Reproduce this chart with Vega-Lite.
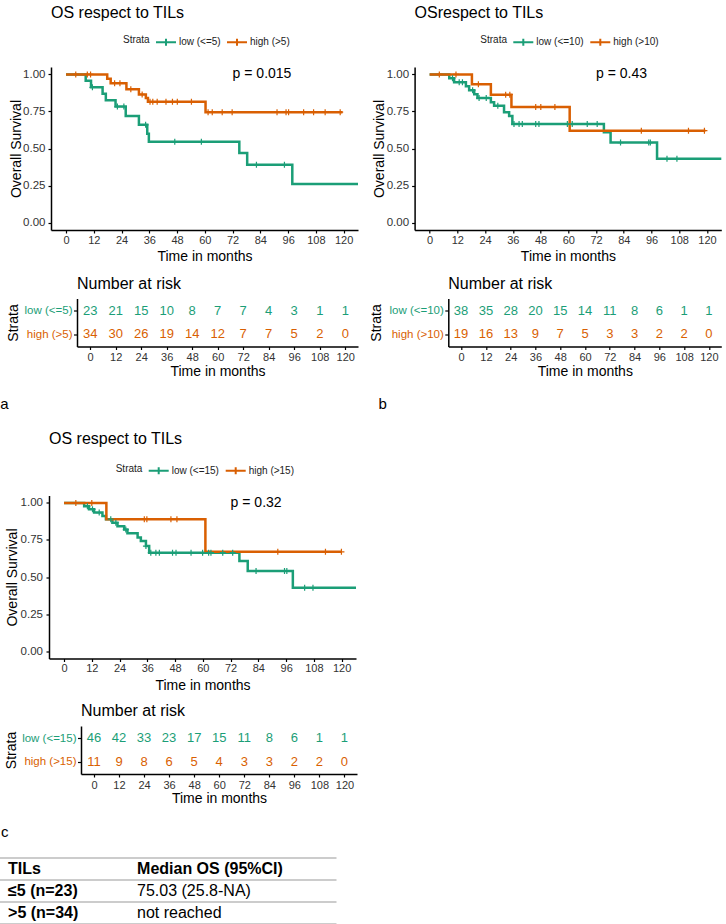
{
  "$schema": "https://vega.github.io/schema/vega-lite/v6.json",
  "padding": {"left": 0, "top": 5, "right": 0, "bottom": 0},
  "config": {
    "font": "Liberation Sans",
    "view": {"stroke": null},
    "axis": {"grid": false, "domainColor": "#000", "domainWidth": 1.5, "tickColor": "#000", "tickWidth": 1.2, "labelColor": "#333", "titleColor": "#000", "titleFontWeight": "normal", "labelFont": "Liberation Sans", "titleFont": "Liberation Sans", "labelOverlap": false},
    "title": {"fontWeight": "normal", "color": "#000", "font": "Liberation Sans"},
    "legend": {"labelFont": "Liberation Sans", "titleFont": "Liberation Sans"}
  },
  "datasets": {
    "km_a": [
      {"strata": "low (<=5)", "time": 0, "surv": 1}, {"strata": "low (<=5)", "time": 8.5, "surv": 0.957}, {"strata": "low (<=5)", "time": 10.8, "surv": 0.913}, {"strata": "low (<=5)", "time": 15.8, "surv": 0.87}, {"strata": "low (<=5)", "time": 17.2, "surv": 0.826}, {"strata": "low (<=5)", "time": 21.4, "surv": 0.783}, {"strata": "low (<=5)", "time": 25.8, "surv": 0.72}, {"strata": "low (<=5)", "time": 31.5, "surv": 0.66}, {"strata": "low (<=5)", "time": 35.1, "surv": 0.6}, {"strata": "low (<=5)", "time": 35.8, "surv": 0.545}, {"strata": "low (<=5)", "time": 74.9, "surv": 0.47}, {"strata": "low (<=5)", "time": 78.3, "surv": 0.39}, {"strata": "low (<=5)", "time": 97.8, "surv": 0.26}, {"strata": "low (<=5)", "time": 126.2, "surv": 0.26},
      {"strata": "high (>5)", "time": 0, "surv": 1}, {"strata": "high (>5)", "time": 17.8, "surv": 0.97}, {"strata": "high (>5)", "time": 19.3, "surv": 0.94}, {"strata": "high (>5)", "time": 26.1, "surv": 0.9}, {"strata": "high (>5)", "time": 31.5, "surv": 0.865}, {"strata": "high (>5)", "time": 34.5, "surv": 0.84}, {"strata": "high (>5)", "time": 35.4, "surv": 0.815}, {"strata": "high (>5)", "time": 60.3, "surv": 0.745}, {"strata": "high (>5)", "time": 119.5, "surv": 0.745}
    ],
    "cens_a": [
      {"strata": "low (<=5)", "time": 11.4, "surv": 0.913}, {"strata": "low (<=5)", "time": 22.2, "surv": 0.783}, {"strata": "low (<=5)", "time": 25, "surv": 0.783}, {"strata": "low (<=5)", "time": 34.4, "surv": 0.66}, {"strata": "low (<=5)", "time": 47, "surv": 0.545}, {"strata": "low (<=5)", "time": 58.5, "surv": 0.545}, {"strata": "low (<=5)", "time": 82.3, "surv": 0.39}, {"strata": "low (<=5)", "time": 94.4, "surv": 0.39},
      {"strata": "high (>5)", "time": 4.2, "surv": 1}, {"strata": "high (>5)", "time": 9.2, "surv": 1}, {"strata": "high (>5)", "time": 10.6, "surv": 1}, {"strata": "high (>5)", "time": 21, "surv": 0.94}, {"strata": "high (>5)", "time": 23.3, "surv": 0.94}, {"strata": "high (>5)", "time": 28, "surv": 0.9}, {"strata": "high (>5)", "time": 32.9, "surv": 0.865}, {"strata": "high (>5)", "time": 36.3, "surv": 0.815}, {"strata": "high (>5)", "time": 37.5, "surv": 0.815}, {"strata": "high (>5)", "time": 39.4, "surv": 0.815}, {"strata": "high (>5)", "time": 43.2, "surv": 0.815}, {"strata": "high (>5)", "time": 46, "surv": 0.815}, {"strata": "high (>5)", "time": 48.1, "surv": 0.815}, {"strata": "high (>5)", "time": 54.2, "surv": 0.815}, {"strata": "high (>5)", "time": 61.4, "surv": 0.745}, {"strata": "high (>5)", "time": 63.2, "surv": 0.745}, {"strata": "high (>5)", "time": 67.5, "surv": 0.745}, {"strata": "high (>5)", "time": 71.8, "surv": 0.745}, {"strata": "high (>5)", "time": 91.2, "surv": 0.745}, {"strata": "high (>5)", "time": 95.1, "surv": 0.745}, {"strata": "high (>5)", "time": 96.2, "surv": 0.745}, {"strata": "high (>5)", "time": 102.7, "surv": 0.745}, {"strata": "high (>5)", "time": 107, "surv": 0.745}, {"strata": "high (>5)", "time": 112, "surv": 0.745}, {"strata": "high (>5)", "time": 118.5, "surv": 0.745}
    ],
    "km_b": [
      {"strata": "low (<=10)", "time": 0, "surv": 1}, {"strata": "low (<=10)", "time": 8.5, "surv": 0.974}, {"strata": "low (<=10)", "time": 10.6, "surv": 0.947}, {"strata": "low (<=10)", "time": 15.7, "surv": 0.92}, {"strata": "low (<=10)", "time": 17.1, "surv": 0.893}, {"strata": "low (<=10)", "time": 19.3, "surv": 0.866}, {"strata": "low (<=10)", "time": 20.7, "surv": 0.84}, {"strata": "low (<=10)", "time": 26.5, "surv": 0.812}, {"strata": "low (<=10)", "time": 27.9, "surv": 0.788}, {"strata": "low (<=10)", "time": 32.2, "surv": 0.745}, {"strata": "low (<=10)", "time": 34.4, "surv": 0.72}, {"strata": "low (<=10)", "time": 35.8, "surv": 0.665}, {"strata": "low (<=10)", "time": 75.4, "surv": 0.61}, {"strata": "low (<=10)", "time": 78.3, "surv": 0.54}, {"strata": "low (<=10)", "time": 98.4, "surv": 0.43}, {"strata": "low (<=10)", "time": 126.2, "surv": 0.43},
      {"strata": "high (>10)", "time": 0, "surv": 1}, {"strata": "high (>10)", "time": 18.3, "surv": 0.934}, {"strata": "high (>10)", "time": 26.5, "surv": 0.863}, {"strata": "high (>10)", "time": 35.4, "surv": 0.78}, {"strata": "high (>10)", "time": 60.6, "surv": 0.62}, {"strata": "high (>10)", "time": 119.3, "surv": 0.62}
    ],
    "cens_b": [
      {"strata": "low (<=10)", "time": 9.9, "surv": 0.974}, {"strata": "low (<=10)", "time": 12.8, "surv": 0.947}, {"strata": "low (<=10)", "time": 14.2, "surv": 0.947}, {"strata": "low (<=10)", "time": 18.6, "surv": 0.893}, {"strata": "low (<=10)", "time": 21.4, "surv": 0.84}, {"strata": "low (<=10)", "time": 24.5, "surv": 0.84}, {"strata": "low (<=10)", "time": 29.5, "surv": 0.788}, {"strata": "low (<=10)", "time": 36.5, "surv": 0.665}, {"strata": "low (<=10)", "time": 38.7, "surv": 0.665}, {"strata": "low (<=10)", "time": 40.1, "surv": 0.665}, {"strata": "low (<=10)", "time": 45.9, "surv": 0.665}, {"strata": "low (<=10)", "time": 47.3, "surv": 0.665}, {"strata": "low (<=10)", "time": 59.6, "surv": 0.665}, {"strata": "low (<=10)", "time": 61.7, "surv": 0.665}, {"strata": "low (<=10)", "time": 68.2, "surv": 0.665}, {"strata": "low (<=10)", "time": 72.5, "surv": 0.665}, {"strata": "low (<=10)", "time": 82.6, "surv": 0.54}, {"strata": "low (<=10)", "time": 94.8, "surv": 0.54}, {"strata": "low (<=10)", "time": 95.5, "surv": 0.54}, {"strata": "low (<=10)", "time": 102.7, "surv": 0.43}, {"strata": "low (<=10)", "time": 107, "surv": 0.43},
      {"strata": "high (>10)", "time": 4.2, "surv": 1}, {"strata": "high (>10)", "time": 11.4, "surv": 1}, {"strata": "high (>10)", "time": 21.1, "surv": 0.934}, {"strata": "high (>10)", "time": 32.9, "surv": 0.863}, {"strata": "high (>10)", "time": 34.7, "surv": 0.863}, {"strata": "high (>10)", "time": 45.9, "surv": 0.78}, {"strata": "high (>10)", "time": 48.1, "surv": 0.78}, {"strata": "high (>10)", "time": 54.2, "surv": 0.78}, {"strata": "high (>10)", "time": 91.6, "surv": 0.62}, {"strata": "high (>10)", "time": 112, "surv": 0.62}, {"strata": "high (>10)", "time": 118.9, "surv": 0.62}
    ],
    "km_c": [
      {"strata": "low (<=15)", "time": 0, "surv": 1}, {"strata": "low (<=15)", "time": 8.7, "surv": 0.978}, {"strata": "low (<=15)", "time": 10.8, "surv": 0.957}, {"strata": "low (<=15)", "time": 13, "surv": 0.935}, {"strata": "low (<=15)", "time": 16.6, "surv": 0.912}, {"strata": "low (<=15)", "time": 18.1, "surv": 0.89}, {"strata": "low (<=15)", "time": 20.9, "surv": 0.866}, {"strata": "low (<=15)", "time": 23.1, "surv": 0.843}, {"strata": "low (<=15)", "time": 26, "surv": 0.82}, {"strata": "low (<=15)", "time": 27.4, "surv": 0.795}, {"strata": "low (<=15)", "time": 31.8, "surv": 0.766}, {"strata": "low (<=15)", "time": 33.2, "surv": 0.743}, {"strata": "low (<=15)", "time": 35.4, "surv": 0.709}, {"strata": "low (<=15)", "time": 36.8, "surv": 0.664}, {"strata": "low (<=15)", "time": 75.8, "surv": 0.608}, {"strata": "low (<=15)", "time": 79.4, "surv": 0.54}, {"strata": "low (<=15)", "time": 98.9, "surv": 0.428}, {"strata": "low (<=15)", "time": 126.2, "surv": 0.428},
      {"strata": "high (>15)", "time": 0, "surv": 1}, {"strata": "high (>15)", "time": 18.3, "surv": 0.89}, {"strata": "high (>15)", "time": 61.1, "surv": 0.67}, {"strata": "high (>15)", "time": 120, "surv": 0.67}
    ],
    "cens_c": [
      {"strata": "low (<=15)", "time": 10.1, "surv": 0.978}, {"strata": "low (<=15)", "time": 12.3, "surv": 0.957}, {"strata": "low (<=15)", "time": 15.2, "surv": 0.935}, {"strata": "low (<=15)", "time": 20.2, "surv": 0.89}, {"strata": "low (<=15)", "time": 22.4, "surv": 0.866}, {"strata": "low (<=15)", "time": 26.7, "surv": 0.82}, {"strata": "low (<=15)", "time": 35.4, "surv": 0.709}, {"strata": "low (<=15)", "time": 37.5, "surv": 0.664}, {"strata": "low (<=15)", "time": 39.7, "surv": 0.664}, {"strata": "low (<=15)", "time": 41.2, "surv": 0.664}, {"strata": "low (<=15)", "time": 46.9, "surv": 0.664}, {"strata": "low (<=15)", "time": 48.4, "surv": 0.664}, {"strata": "low (<=15)", "time": 54.9, "surv": 0.664}, {"strata": "low (<=15)", "time": 59.9, "surv": 0.664}, {"strata": "low (<=15)", "time": 62.5, "surv": 0.664}, {"strata": "low (<=15)", "time": 63.5, "surv": 0.664}, {"strata": "low (<=15)", "time": 68.6, "surv": 0.664}, {"strata": "low (<=15)", "time": 72.9, "surv": 0.664}, {"strata": "low (<=15)", "time": 83, "surv": 0.54}, {"strata": "low (<=15)", "time": 95.3, "surv": 0.54}, {"strata": "low (<=15)", "time": 96.3, "surv": 0.54}, {"strata": "low (<=15)", "time": 104, "surv": 0.428}, {"strata": "low (<=15)", "time": 107.6, "surv": 0.428},
      {"strata": "high (>15)", "time": 5.1, "surv": 1}, {"strata": "high (>15)", "time": 12, "surv": 1}, {"strata": "high (>15)", "time": 34.7, "surv": 0.89}, {"strata": "high (>15)", "time": 35.8, "surv": 0.89}, {"strata": "high (>15)", "time": 46.2, "surv": 0.89}, {"strata": "high (>15)", "time": 48.8, "surv": 0.89}, {"strata": "high (>15)", "time": 92.4, "surv": 0.67}, {"strata": "high (>15)", "time": 113, "surv": 0.67}, {"strata": "high (>15)", "time": 119.9, "surv": 0.67}
    ],
    "risk_a": [
      {"strata": "low (<=5)", "time": 0, "n": 23}, {"strata": "low (<=5)", "time": 12, "n": 21}, {"strata": "low (<=5)", "time": 24, "n": 15}, {"strata": "low (<=5)", "time": 36, "n": 10}, {"strata": "low (<=5)", "time": 48, "n": 8}, {"strata": "low (<=5)", "time": 60, "n": 7}, {"strata": "low (<=5)", "time": 72, "n": 7}, {"strata": "low (<=5)", "time": 84, "n": 4}, {"strata": "low (<=5)", "time": 96, "n": 3}, {"strata": "low (<=5)", "time": 108, "n": 1}, {"strata": "low (<=5)", "time": 120, "n": 1},
      {"strata": "high (>5)", "time": 0, "n": 34}, {"strata": "high (>5)", "time": 12, "n": 30}, {"strata": "high (>5)", "time": 24, "n": 26}, {"strata": "high (>5)", "time": 36, "n": 19}, {"strata": "high (>5)", "time": 48, "n": 14}, {"strata": "high (>5)", "time": 60, "n": 12}, {"strata": "high (>5)", "time": 72, "n": 7}, {"strata": "high (>5)", "time": 84, "n": 7}, {"strata": "high (>5)", "time": 96, "n": 5}, {"strata": "high (>5)", "time": 108, "n": 2}, {"strata": "high (>5)", "time": 120, "n": 0}
    ],
    "risk_b": [
      {"strata": "low (<=10)", "time": 0, "n": 38}, {"strata": "low (<=10)", "time": 12, "n": 35}, {"strata": "low (<=10)", "time": 24, "n": 28}, {"strata": "low (<=10)", "time": 36, "n": 20}, {"strata": "low (<=10)", "time": 48, "n": 15}, {"strata": "low (<=10)", "time": 60, "n": 14}, {"strata": "low (<=10)", "time": 72, "n": 11}, {"strata": "low (<=10)", "time": 84, "n": 8}, {"strata": "low (<=10)", "time": 96, "n": 6}, {"strata": "low (<=10)", "time": 108, "n": 1}, {"strata": "low (<=10)", "time": 120, "n": 1},
      {"strata": "high (>10)", "time": 0, "n": 19}, {"strata": "high (>10)", "time": 12, "n": 16}, {"strata": "high (>10)", "time": 24, "n": 13}, {"strata": "high (>10)", "time": 36, "n": 9}, {"strata": "high (>10)", "time": 48, "n": 7}, {"strata": "high (>10)", "time": 60, "n": 5}, {"strata": "high (>10)", "time": 72, "n": 3}, {"strata": "high (>10)", "time": 84, "n": 3}, {"strata": "high (>10)", "time": 96, "n": 2}, {"strata": "high (>10)", "time": 108, "n": 2}, {"strata": "high (>10)", "time": 120, "n": 0}
    ],
    "risk_c": [
      {"strata": "low (<=15)", "time": 0, "n": 46}, {"strata": "low (<=15)", "time": 12, "n": 42}, {"strata": "low (<=15)", "time": 24, "n": 33}, {"strata": "low (<=15)", "time": 36, "n": 23}, {"strata": "low (<=15)", "time": 48, "n": 17}, {"strata": "low (<=15)", "time": 60, "n": 15}, {"strata": "low (<=15)", "time": 72, "n": 11}, {"strata": "low (<=15)", "time": 84, "n": 8}, {"strata": "low (<=15)", "time": 96, "n": 6}, {"strata": "low (<=15)", "time": 108, "n": 1}, {"strata": "low (<=15)", "time": 120, "n": 1},
      {"strata": "high (>15)", "time": 0, "n": 11}, {"strata": "high (>15)", "time": 12, "n": 9}, {"strata": "high (>15)", "time": 24, "n": 8}, {"strata": "high (>15)", "time": 36, "n": 6}, {"strata": "high (>15)", "time": 48, "n": 5}, {"strata": "high (>15)", "time": 60, "n": 4}, {"strata": "high (>15)", "time": 72, "n": 3}, {"strata": "high (>15)", "time": 84, "n": 3}, {"strata": "high (>15)", "time": 96, "n": 2}, {"strata": "high (>15)", "time": 108, "n": 2}, {"strata": "high (>15)", "time": 120, "n": 0}
    ],
    "tbl": [
      {"row": "TILs", "col": "TILs", "text": "TILs"},
      {"row": "TILs", "col": "Median OS (95%CI)", "text": "Median OS (95%CI)"},
      {"row": "≤5 (n=23)", "col": "TILs", "text": "≤5 (n=23)"},
      {"row": "≤5 (n=23)", "col": "Median OS (95%CI)", "text": "75.03 (25.8-NA)"},
      {"row": ">5 (n=34)", "col": "TILs", "text": ">5 (n=34)"},
      {"row": ">5 (n=34)", "col": "Median OS (95%CI)", "text": "not reached"}
    ]
  },
  "resolve": {"scale": {"color": "independent"}, "legend": {"color": "independent"}},
  "spacing": 18.5,
  "vconcat": [
    {
      "spacing": -18.7,
      "resolve": {"scale": {"color": "independent"}, "legend": {"color": "independent"}},
      "hconcat": [
        {
          "spacing": 11.5,
          "title": {"text": "a", "orient": "bottom", "anchor": "start", "offset": 19, "fontSize": 15, "dx": -6},
          "resolve": {"scale": {"color": "independent"}, "legend": {"color": "independent"}},
          "vconcat": [
            {
              "width": 277, "height": 163,
              "title": {"text": "OS respect to TILs", "anchor": "start", "frame": "group", "fontSize": 16, "offset": 10, "dx": -30},
              "layer": [
                {
                  "data": {"name": "km_a"},
                  "mark": {"type": "line", "interpolate": "step-after", "strokeWidth": 2.5},
                  "encoding": {
                    "x": {"field": "time", "type": "quantitative", "scale": {"domain": [-6.5, 126.2], "range": [-30, 277], "nice": false, "zero": false}, "axis": {"values": [0, 12, 24, 36, 48, 60, 72, 84, 96, 108, 120], "format": "d", "title": "Time in months", "titleFontSize": 14, "titlePadding": 4.5, "labelFontSize": 11, "labelPadding": 1, "tickSize": 3, "labelOverlap": false}},
                    "y": {"field": "surv", "type": "quantitative", "scale": {"domain": [-0.05, 1.05], "nice": false, "zero": false}, "axis": {"values": [0, 0.25, 0.5, 0.75, 1], "format": ".2f", "title": "Overall Survival", "titleFontSize": 14, "titlePadding": 0, "labelFontSize": 11.5, "labelPadding": 3, "tickSize": 3, "minExtent": 28, "maxExtent": 28, "offset": 30}},
                    "color": {"field": "strata", "type": "nominal", "scale": {"domain": ["low (<=5)", "high (>5)"], "range": ["#1b9e77", "#d95f02"]}, "legend": {"orient": "none", "legendX": 42, "legendY": -36, "direction": "horizontal", "title": "Strata", "titleOrient": "left", "titleFontSize": 10, "titleFontWeight": "normal", "titleColor": "#222", "labelFontSize": 10, "labelColor": "#222", "symbolType": "M-1,0H1M0,-0.35V0.35", "symbolSize": 400, "symbolStrokeWidth": 2, "labelOffset": 2, "columnPadding": 2, "titlePadding": 5, "padding": 0}}
                  }
                },
                {
                  "data": {"name": "cens_a"},
                  "mark": {"type": "point", "shape": "M0,-1V1M-1,0H1", "size": 36, "strokeWidth": 1.2, "filled": false, "opacity": 1},
                  "encoding": {
                    "x": {"field": "time", "type": "quantitative", "axis": {"values": [0, 12, 24, 36, 48, 60, 72, 84, 96, 108, 120], "format": "d", "title": "Time in months", "titleFontSize": 14, "titlePadding": 4.5, "labelFontSize": 11, "labelPadding": 1, "tickSize": 3, "labelOverlap": false}},
                    "y": {"field": "surv", "type": "quantitative"},
                    "color": {"field": "strata", "type": "nominal", "legend": null}
                  }
                },
                {
                  "data": {"values": [{"label": "p = 0.015"}]},
                  "mark": {"type": "text", "align": "left", "baseline": "middle", "fontSize": 14, "color": "#000"},
                  "encoding": {"x": {"datum": 72, "type": "quantitative", "axis": {"values": [0, 12, 24, 36, 48, 60, 72, 84, 96, 108, 120], "format": "d", "title": "Time in months", "titleFontSize": 14, "titlePadding": 4.5, "labelFontSize": 11, "labelPadding": 1, "tickSize": 3, "labelOverlap": false}}, "y": {"datum": 1, "type": "quantitative"}, "text": {"field": "label"}}
                }
              ]
            },
            {
              "width": 277, "height": 48,
              "title": {"text": "Number at risk", "anchor": "start", "frame": "group", "fontSize": 16, "offset": 7, "dx": -4},
              "data": {"name": "risk_a"},
              "mark": {"type": "text", "fontSize": 13, "baseline": "middle"},
              "encoding": {
                "x": {"field": "time", "type": "quantitative", "scale": {"domain": [-6.2, 126], "range": [-4, 277], "nice": false, "zero": false}, "axis": {"values": [0, 12, 24, 36, 48, 60, 72, 84, 96, 108, 120], "format": "d", "title": "Time in months", "titleFontSize": 14, "titlePadding": 1.5, "labelFontSize": 11, "labelPadding": 2, "tickSize": 3, "labelOverlap": false}},
                "y": {"field": "strata", "type": "nominal", "sort": ["low (<=5)", "high (>5)"], "scale": {"type": "point", "padding": 0.54}, "axis": {"title": "Strata", "titleFontSize": 14, "titlePadding": 3.7, "labelFontSize": 11.5, "labelPadding": 1.5, "tickSize": 3.5, "minExtent": 53, "maxExtent": 53, "offset": 4, "labelColor": {"condition": {"test": "datum.value === 'low (<=5)'", "value": "#1b9e77"}, "value": "#d95f02"}}},
                "text": {"field": "n", "type": "quantitative"},
                "color": {"field": "strata", "type": "nominal", "scale": {"domain": ["low (<=5)", "high (>5)"], "range": ["#1b9e77", "#d95f02"]}, "legend": null}
              }
            }
          ]
        },
        {
          "spacing": 11.5,
          "title": {"text": "b", "orient": "bottom", "anchor": "start", "offset": 19, "fontSize": 15, "dx": 9},
          "resolve": {"scale": {"color": "independent"}, "legend": {"color": "independent"}},
          "vconcat": [
            {
              "width": 273, "height": 163,
              "title": {"text": "OSrespect to TILs", "anchor": "start", "frame": "group", "fontSize": 16, "offset": 10, "dx": -33.7},
              "layer": [
                {
                  "data": {"name": "km_b"},
                  "mark": {"type": "line", "interpolate": "step-after", "strokeWidth": 2.5},
                  "encoding": {
                    "x": {"field": "time", "type": "quantitative", "scale": {"domain": [-6.5, 126.2], "range": [-33.7, 273], "nice": false, "zero": false}, "axis": {"values": [0, 12, 24, 36, 48, 60, 72, 84, 96, 108, 120], "format": "d", "title": "Time in months", "titleFontSize": 14, "titlePadding": 4.5, "labelFontSize": 11, "labelPadding": 1, "tickSize": 3, "labelOverlap": false}},
                    "y": {"field": "surv", "type": "quantitative", "scale": {"domain": [-0.05, 1.05], "nice": false, "zero": false}, "axis": {"values": [0, 0.25, 0.5, 0.75, 1], "format": ".2f", "title": "Overall Survival", "titleFontSize": 14, "titlePadding": 0, "labelFontSize": 11.5, "labelPadding": 3, "tickSize": 3, "minExtent": 28, "maxExtent": 28, "offset": 33.7}},
                    "color": {"field": "strata", "type": "nominal", "scale": {"domain": ["low (<=10)", "high (>10)"], "range": ["#1b9e77", "#d95f02"]}, "legend": {"orient": "none", "legendX": 32, "legendY": -36, "direction": "horizontal", "title": "Strata", "titleOrient": "left", "titleFontSize": 10, "titleFontWeight": "normal", "titleColor": "#222", "labelFontSize": 10, "labelColor": "#222", "symbolType": "M-1,0H1M0,-0.35V0.35", "symbolSize": 400, "symbolStrokeWidth": 2, "labelOffset": 2, "columnPadding": 2, "titlePadding": 5, "padding": 0}}
                  }
                },
                {
                  "data": {"name": "cens_b"},
                  "mark": {"type": "point", "shape": "M0,-1V1M-1,0H1", "size": 36, "strokeWidth": 1.2, "filled": false, "opacity": 1},
                  "encoding": {
                    "x": {"field": "time", "type": "quantitative", "axis": {"values": [0, 12, 24, 36, 48, 60, 72, 84, 96, 108, 120], "format": "d", "title": "Time in months", "titleFontSize": 14, "titlePadding": 4.5, "labelFontSize": 11, "labelPadding": 1, "tickSize": 3, "labelOverlap": false}},
                    "y": {"field": "surv", "type": "quantitative"},
                    "color": {"field": "strata", "type": "nominal", "legend": null}
                  }
                },
                {
                  "data": {"values": [{"label": "p = 0.43"}]},
                  "mark": {"type": "text", "align": "left", "baseline": "middle", "fontSize": 14, "color": "#000"},
                  "encoding": {"x": {"datum": 72, "type": "quantitative", "axis": {"values": [0, 12, 24, 36, 48, 60, 72, 84, 96, 108, 120], "format": "d", "title": "Time in months", "titleFontSize": 14, "titlePadding": 4.5, "labelFontSize": 11, "labelPadding": 1, "tickSize": 3, "labelOverlap": false}}, "y": {"datum": 1, "type": "quantitative"}, "text": {"field": "label"}}
                }
              ]
            },
            {
              "width": 273, "height": 48,
              "title": {"text": "Number at risk", "anchor": "start", "frame": "group", "fontSize": 16, "offset": 7},
              "data": {"name": "risk_b"},
              "mark": {"type": "text", "fontSize": 13, "baseline": "middle"},
              "encoding": {
                "x": {"field": "time", "type": "quantitative", "scale": {"domain": [-6.2, 126], "nice": false, "zero": false}, "axis": {"values": [0, 12, 24, 36, 48, 60, 72, 84, 96, 108, 120], "format": "d", "title": "Time in months", "titleFontSize": 14, "titlePadding": 1.5, "labelFontSize": 11, "labelPadding": 2, "tickSize": 3, "labelOverlap": false}},
                "y": {"field": "strata", "type": "nominal", "sort": ["low (<=10)", "high (>10)"], "scale": {"type": "point", "padding": 0.54}, "axis": {"title": "Strata", "titleFontSize": 14, "titlePadding": 3.7, "labelFontSize": 11.5, "labelPadding": 1.5, "tickSize": 3.5, "minExtent": 61, "maxExtent": 61, "labelColor": {"condition": {"test": "datum.value === 'low (<=10)'", "value": "#1b9e77"}, "value": "#d95f02"}}},
                "text": {"field": "n", "type": "quantitative"},
                "color": {"field": "strata", "type": "nominal", "scale": {"domain": ["low (<=10)", "high (>10)"], "range": ["#1b9e77", "#d95f02"]}, "legend": null}
              }
            }
          ]
        }
      ]
    },
    {
      "spacing": 18,
      "resolve": {"scale": {"color": "independent"}, "legend": {"color": "independent"}},
      "vconcat": [
        {
          "spacing": 10.5,
          "title": {"text": "c", "orient": "bottom", "anchor": "start", "offset": 19, "fontSize": 15, "dx": -3},
          "resolve": {"scale": {"color": "independent"}, "legend": {"color": "independent"}},
          "vconcat": [
            {
              "width": 275, "height": 163,
              "title": {"text": "OS respect to TILs", "anchor": "start", "frame": "group", "fontSize": 16, "offset": 13, "dx": -32},
              "layer": [
                {
                  "data": {"name": "km_c"},
                  "mark": {"type": "line", "interpolate": "step-after", "strokeWidth": 2.5},
                  "encoding": {
                    "x": {"field": "time", "type": "quantitative", "scale": {"domain": [-6.5, 126.2], "range": [-32, 275], "nice": false, "zero": false}, "axis": {"values": [0, 12, 24, 36, 48, 60, 72, 84, 96, 108, 120], "format": "d", "title": "Time in months", "titleFontSize": 14, "titlePadding": 4.5, "labelFontSize": 11, "labelPadding": 1, "tickSize": 3, "labelOverlap": false}},
                    "y": {"field": "surv", "type": "quantitative", "scale": {"domain": [-0.05, 1.05], "nice": false, "zero": false}, "axis": {"values": [0, 0.25, 0.5, 0.75, 1], "format": ".2f", "title": "Overall Survival", "titleFontSize": 14, "titlePadding": 0, "labelFontSize": 11.5, "labelPadding": 3.5, "tickSize": 3, "minExtent": 29.3, "maxExtent": 29.3, "offset": 32}},
                    "color": {"field": "strata", "type": "nominal", "scale": {"domain": ["low (<=15)", "high (>15)"], "range": ["#1b9e77", "#d95f02"]}, "legend": {"orient": "none", "legendX": 34.7, "legendY": -36, "direction": "horizontal", "title": "Strata", "titleOrient": "left", "titleFontSize": 10, "titleFontWeight": "normal", "titleColor": "#222", "labelFontSize": 10, "labelColor": "#222", "symbolType": "M-1,0H1M0,-0.35V0.35", "symbolSize": 400, "symbolStrokeWidth": 2, "labelOffset": 2, "columnPadding": 2, "titlePadding": 5, "padding": 0}}
                  }
                },
                {
                  "data": {"name": "cens_c"},
                  "mark": {"type": "point", "shape": "M0,-1V1M-1,0H1", "size": 36, "strokeWidth": 1.2, "filled": false, "opacity": 1},
                  "encoding": {
                    "x": {"field": "time", "type": "quantitative", "axis": {"values": [0, 12, 24, 36, 48, 60, 72, 84, 96, 108, 120], "format": "d", "title": "Time in months", "titleFontSize": 14, "titlePadding": 4.5, "labelFontSize": 11, "labelPadding": 1, "tickSize": 3, "labelOverlap": false}},
                    "y": {"field": "surv", "type": "quantitative"},
                    "color": {"field": "strata", "type": "nominal", "legend": null}
                  }
                },
                {
                  "data": {"values": [{"label": "p = 0.32"}]},
                  "mark": {"type": "text", "align": "left", "baseline": "middle", "fontSize": 14, "color": "#000"},
                  "encoding": {"x": {"datum": 72, "type": "quantitative", "axis": {"values": [0, 12, 24, 36, 48, 60, 72, 84, 96, 108, 120], "format": "d", "title": "Time in months", "titleFontSize": 14, "titlePadding": 4.5, "labelFontSize": 11, "labelPadding": 1, "tickSize": 3, "labelOverlap": false}}, "y": {"datum": 1, "type": "quantitative"}, "text": {"field": "label"}}
                }
              ]
            },
            {
              "width": 276, "height": 48,
              "title": {"text": "Number at risk", "anchor": "start", "frame": "group", "fontSize": 16, "offset": 7},
              "data": {"name": "risk_c"},
              "mark": {"type": "text", "fontSize": 13, "baseline": "middle"},
              "encoding": {
                "x": {"field": "time", "type": "quantitative", "scale": {"domain": [-6.2, 126], "nice": false, "zero": false}, "axis": {"values": [0, 12, 24, 36, 48, 60, 72, 84, 96, 108, 120], "format": "d", "title": "Time in months", "titleFontSize": 14, "titlePadding": 1.5, "labelFontSize": 11, "labelPadding": 2, "tickSize": 3, "labelOverlap": false}},
                "y": {"field": "strata", "type": "nominal", "sort": ["low (<=15)", "high (>15)"], "scale": {"type": "point", "padding": 0.54}, "axis": {"title": "Strata", "titleFontSize": 14, "titlePadding": 3, "labelFontSize": 11.5, "labelPadding": 1.5, "tickSize": 3.5, "minExtent": 60, "maxExtent": 60, "labelColor": {"condition": {"test": "datum.value === 'low (<=15)'", "value": "#1b9e77"}, "value": "#d95f02"}}},
                "text": {"field": "n", "type": "quantitative"},
                "color": {"field": "strata", "type": "nominal", "scale": {"domain": ["low (<=15)", "high (>15)"], "range": ["#1b9e77", "#d95f02"]}, "legend": null}
              }
            }
          ]
        },
        {
          "width": 255, "height": 66,
          "data": {"name": "tbl"},
          "encoding": {
            "y": {"field": "row", "type": "nominal", "sort": ["TILs", "≤5 (n=23)", ">5 (n=34)"], "scale": {"type": "band", "paddingInner": 0, "paddingOuter": 0}, "axis": {"title": null, "labels": false, "ticks": false, "domain": false, "grid": true, "tickBand": "extent", "gridColor": "#999", "gridWidth": 1, "minExtent": 0, "maxExtent": 0}},
            "x": {"field": "col", "type": "nominal", "scale": {"type": "band", "domain": ["TILs", "Median OS (95%CI)", "_"], "range": [-82, 255], "paddingInner": 0.528, "paddingOuter": 0.07}, "bandPosition": 0, "axis": null},
            "text": {"field": "text"}
          },
          "layer": [
            {
              "transform": [{"filter": "datum.col === 'TILs' || datum.row === 'TILs'"}],
              "mark": {"type": "text", "align": "left", "baseline": "middle", "fontSize": 16, "fontWeight": "bold", "color": "#000"}
            },
            {
              "transform": [{"filter": "!(datum.col === 'TILs' || datum.row === 'TILs')"}],
              "mark": {"type": "text", "align": "left", "baseline": "middle", "fontSize": 16, "fontWeight": "normal", "color": "#000"}
            }
          ]
        }
      ]
    }
  ]
}
